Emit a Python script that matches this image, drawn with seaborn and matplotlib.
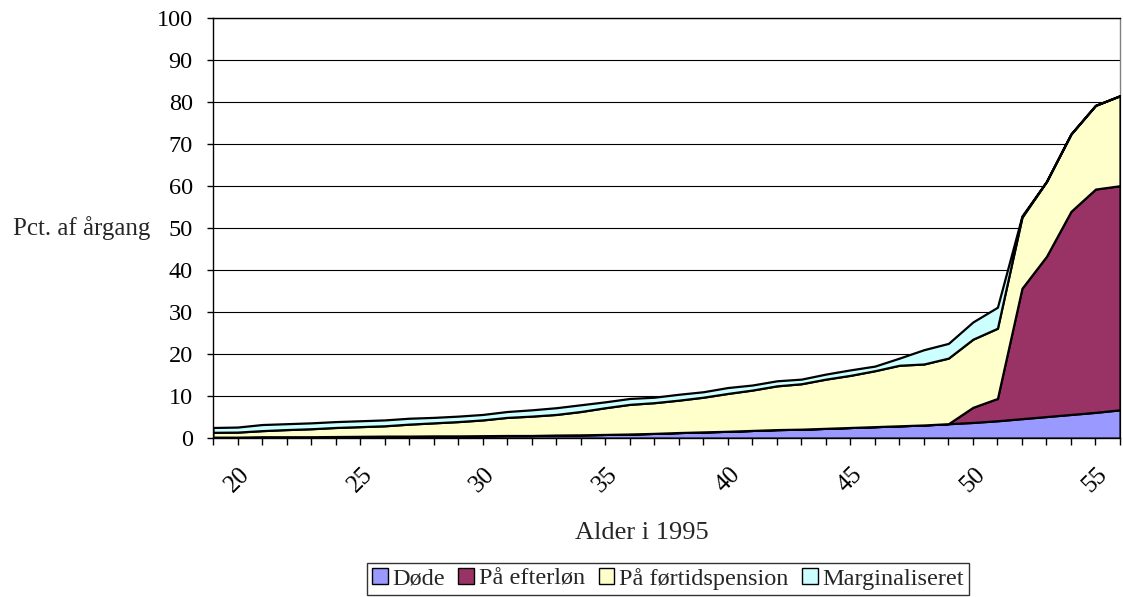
import numpy as np
import pandas as pd
import matplotlib
matplotlib.use("Agg")
import matplotlib.pyplot as plt
import seaborn as sns
from matplotlib.patches import Patch

# Alder i 1995 (x) og andel af årgangen i hver gruppe (pct.)
ages = [19, 20, 21, 22, 23, 24, 25, 26, 27, 28, 29, 30, 31, 32, 33, 34, 35, 36, 37,
        38, 39, 40, 41, 42, 43, 44, 45, 46, 47, 48, 49, 50, 51, 52, 53, 54, 55, 56]
doede = [0.2, 0.2, 0.3, 0.3, 0.3, 0.35, 0.4, 0.45, 0.45, 0.5, 0.5, 0.55, 0.6, 0.6,
         0.7, 0.75, 0.85, 0.95, 1.1, 1.3, 1.45, 1.6, 1.8, 2.0, 2.1, 2.3, 2.5, 2.7,
         2.9, 3.1, 3.4, 3.7, 4.1, 4.6, 5.1, 5.6, 6.1, 6.7]
efterloen = [0, 0, 0, 0, 0, 0, 0, 0, 0, 0, 0, 0, 0, 0, 0, 0, 0, 0, 0,
             0, 0, 0, 0, 0, 0, 0, 0, 0, 0, 0, 0, 3.6, 5.3, 31.0, 38.1, 48.3, 53.1, 53.3]
foertid = [1.15, 1.2, 1.45, 1.7, 1.9, 2.15, 2.3, 2.45, 2.85, 3.1, 3.4, 3.75, 4.3,
           4.6, 4.9, 5.55, 6.35, 7.05, 7.3, 7.7, 8.25, 9.0, 9.6, 10.4, 10.8, 11.7,
           12.4, 13.3, 14.4, 14.5, 15.6, 16.2, 16.7, 16.9, 17.8, 18.4, 19.9, 21.4]
marginal = [1.15, 1.2, 1.45, 1.4, 1.4, 1.4, 1.4, 1.4, 1.4, 1.3, 1.3, 1.3, 1.4,
            1.5, 1.6, 1.6, 1.4, 1.4, 1.3, 1.4, 1.3, 1.4, 1.2, 1.2, 1.1, 1.2, 1.3,
            1.1, 1.7, 3.4, 3.5, 4.1, 5.0, 0.3, 0, 0, 0, 0]

series_names = ["Døde", "På efterløn", "På førtidspension", "Marginaliseret"]
colors = ["#9999FF", "#993366", "#FFFFCC", "#CCFFFF"]
y_ticks = [0, 10, 20, 30, 40, 50, 60, 70, 80, 90, 100]


def main():
    sns.set_theme(style="white")
    plt.rcParams["font.family"] = ["Liberation Serif", "DejaVu Serif"]

    df = pd.DataFrame({"age": ages, series_names[0]: doede, series_names[1]: efterloen,
                       series_names[2]: foertid, series_names[3]: marginal})

    fig = plt.figure(figsize=(11.23, 5.97), dpi=100)
    ax = fig.add_axes([213 / 1123, 1 - 438 / 597, 907 / 1123, 420.5 / 597])

    ax.stackplot(df["age"], *[df[n] for n in series_names], colors=colors,
                 edgecolor="black", linewidth=1.6, zorder=3)

    ax.set_xlim(19, 56)
    ax.set_ylim(0, 100)
    ax.set_yticks(y_ticks)
    ax.set_yticklabels([str(t) for t in y_ticks], fontsize=17.5)
    ax.yaxis.grid(True, color="black", linewidth=0.8, zorder=0)
    ax.xaxis.grid(False)

    ax.set_xticks(ages)
    ax.set_xticklabels([str(a) if a % 5 == 0 else "" for a in ages],
                       rotation=45, ha="center", fontsize=18)
    ax.tick_params(axis="x", direction="out", length=5, width=1, pad=13,
                   bottom=True, colors="black")
    ax.tick_params(axis="y", direction="out", length=4.5, width=1, pad=10,
                   left=True, colors="black")

    for side in ["left", "bottom", "top"]:
        ax.spines[side].set_color("black")
        ax.spines[side].set_linewidth(1)
    ax.spines["right"].set_color("#808080")
    ax.spines["right"].set_linewidth(1)

    ax.set_xlabel("Alder i 1995", fontsize=19, va="center")
    ax.xaxis.set_label_coords((642 - 213) / 907, -95 / 420.5)
    ax.set_ylabel("Pct. af årgang", fontsize=18, rotation=0, ha="left", va="center")
    ax.yaxis.set_label_coords((13 - 213) / 907, 0.5)

    handles = [Patch(facecolor=c, edgecolor="black", linewidth=1) for c in colors]
    leg = fig.legend(handles, series_names, loc="upper center", ncol=4,
                     bbox_to_anchor=(668 / 1123, 1 - 563 / 597), fontsize=17.5,
                     frameon=True, fancybox=False, handlelength=0.65, handleheight=0.65,
                     handletextpad=0.2, columnspacing=0.55, borderpad=0.2,
                     borderaxespad=0)
    leg.get_frame().set_edgecolor("black")
    leg.get_frame().set_linewidth(1)

    fig.savefig("out.png", dpi=100)
    plt.close(fig)


if __name__ == "__main__":
    main()
